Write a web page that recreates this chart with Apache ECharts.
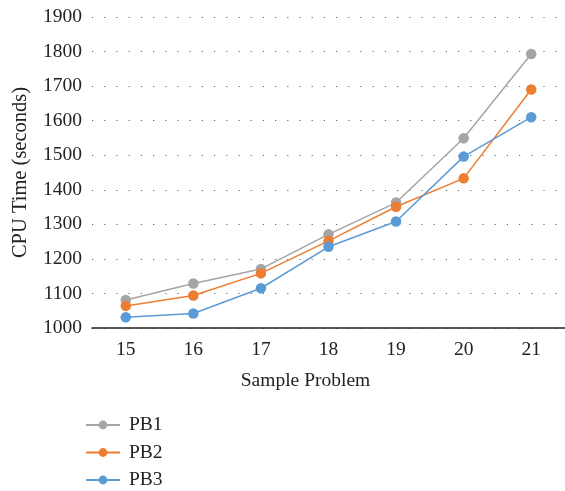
<!DOCTYPE html>
<html><head><meta charset="utf-8">
<script src="https://cdn.jsdelivr.net/npm/echarts@6/dist/echarts.min.js"></script>
<style>html,body{margin:0;padding:0;background:#fff}#c{width:565px;height:491px}</style>
</head><body><div id="c"></div>
<script>
const categories = ['15','16','17','18','19','20','21'];
const pb1 = [1081, 1129, 1171, 1271, 1363, 1549, 1793];
const pb2 = [1064, 1094, 1158, 1252, 1351, 1433, 1690];
const pb3 = [1031, 1042, 1115, 1235, 1308, 1496, 1610];
const seriesNames = ['PB1','PB2','PB3'];
const colors = ['#a5a5a5','#ed7d31','#5b9bd5'];
const font = 'Liberation Serif';
const fs = 19.5;
const chart = echarts.init(document.getElementById('c'));
const mk = (name, data, color) => ({
  name, type: 'line', data, symbol: 'circle', symbolSize: 10.5,
  itemStyle: {color}, lineStyle: {color, width: 1.5}, emphasis: {disabled: true}
});
chart.setOption({
  animation: false,
  grid: {left: 92, right: -3, top: 17, bottom: 163, containLabel: false},
  xAxis: {
    type: 'category', data: categories, boundaryGap: true,
    name: 'Sample Problem', nameLocation: 'middle', nameGap: 43,
    nameTextStyle: {fontFamily: font, fontSize: fs, color: '#222', padding: [0, 46, 0, 0]},
    axisLine: {lineStyle: {color: '#222', width: 1.5}},
    axisTick: {show: false},
    axisLabel: {fontFamily: font, fontSize: fs, color: '#222', margin: 12}
  },
  yAxis: {
    type: 'value', min: 1000, max: 1900, interval: 100,
    name: 'CPU Time (seconds)', nameLocation: 'middle', nameGap: 61,
    nameTextStyle: {fontFamily: font, fontSize: 20.5, color: '#222'},
    axisLine: {show: false}, axisTick: {show: false},
    axisLabel: {fontFamily: font, fontSize: fs, color: '#222', margin: 10, formatter: v => String(v)},
    splitLine: {lineStyle: {color: '#666', width: 1.2, type: [1.2, 11]}}
  },
  legend: {
    orient: 'vertical', left: 85, top: 415, height: 90, padding: 0, itemGap: 7.5, itemWidth: 34, itemHeight: 11,
    data: seriesNames,
    textStyle: {fontFamily: font, fontSize: fs, color: '#222', padding: [0,0,0,4]}
  },
  series: [mk(seriesNames[0], pb1, colors[0]), mk(seriesNames[1], pb2, colors[1]), mk(seriesNames[2], pb3, colors[2])]
});
</script></body></html>
